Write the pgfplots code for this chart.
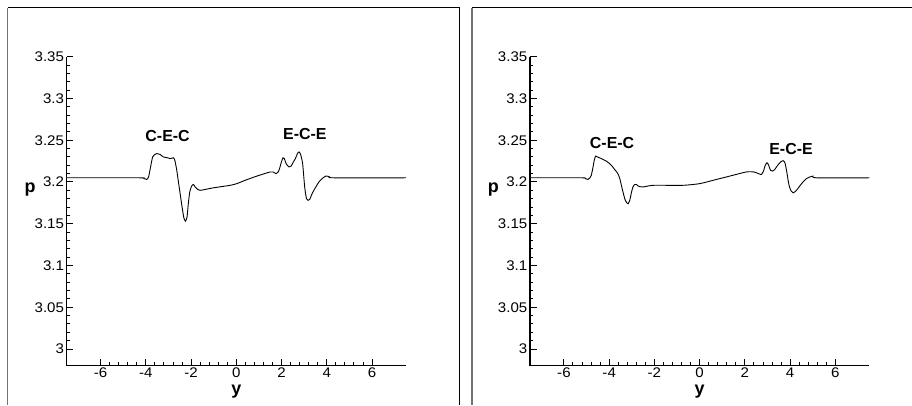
\documentclass[border=0pt]{standalone}
\usepackage{fontspec}
\setmainfont{Liberation Sans}
\newfontfamily\tickfont[FakeStretch=1.08]{Liberation Sans}
\usepackage{pgfplots}
\pgfplotsset{compat=1.18}
\tikzset{
  lab/.style={font=\bfseries\fontsize{16}{18}\selectfont},
  axlab/.style={font=\bfseries\fontsize{18}{20}\selectfont, anchor=base, inner sep=0pt},
}
\begin{document}
\begin{tikzpicture}[x=1bp,y=1bp]
\useasboundingbox (0,0) rectangle (912,405);
\pgfplotsset{
  panel/.style={
    anchor=south west, scale only axis,
    width=339.3bp, height=309bp,
    xmin=-7.5, xmax=7.5, ymin=2.98, ymax=3.35,
    axis x line*=bottom, axis y line*=left,
    axis line style={line width=1.4bp},
    xtick={-6,-4,-2,0,2,4,6},
    xticklabels={-6,-4,-2,0,2,4,6},
    ytick={3,3.05,3.1,3.15,3.2,3.25,3.3,3.35},
    yticklabels={3,3.05,3.1,3.15,3.2,3.25,3.3,3.35},
    minor x tick num=4, minor y tick num=4,
    tick align=inside,
    major tick length=6.5bp, minor tick length=3.3bp,
    every tick/.style={black, line width=1bp},
    tick label style={font=\tickfont\fontsize{14}{16}\selectfont},
    yticklabel style={inner sep=2.5bp},
    xticklabel style={inner sep=2bp},
    /pgf/number format/assume math mode=true,
    clip=false,
  },
  curve/.style={black, line width=0.9bp, smooth, tension=0.35, mark=none},
}
% left panel
\begin{axis}[panel, at={(66.7bp,39.3bp)}]
\addplot[curve] coordinates {
(-7.5,3.205) (-4.3,3.205) (-4.11,3.2045) (-3.96,3.203) (-3.88,3.206) (-3.82,3.214) (-3.75,3.224) (-3.70,3.230) (-3.60,3.233) (-3.52,3.234) (-3.45,3.2335) (-3.37,3.233) (-3.23,3.230) (-3.05,3.229) (-2.93,3.228) (-2.85,3.2285) (-2.78,3.229) (-2.72,3.226) (-2.64,3.215) (-2.56,3.200) (-2.49,3.187) (-2.40,3.170) (-2.32,3.157) (-2.25,3.153) (-2.18,3.158) (-2.12,3.175) (-2.06,3.188) (-1.98,3.195) (-1.90,3.197) (-1.82,3.194) (-1.75,3.192) (-1.60,3.190) (-1.01,3.193) (-0.27,3.196) (0.02,3.198) (0.39,3.202) (0.90,3.207) (1.49,3.212) (1.62,3.212) (1.76,3.210) (1.85,3.212) (1.91,3.216) (1.98,3.223) (2.06,3.229) (2.12,3.228) (2.20,3.222) (2.32,3.218) (2.42,3.219) (2.52,3.224) (2.61,3.228) (2.70,3.234) (2.77,3.236) (2.84,3.233) (2.93,3.222) (3.02,3.194) (3.10,3.180) (3.17,3.178) (3.24,3.179) (3.35,3.186) (3.49,3.193) (3.65,3.200) (3.79,3.204) (3.95,3.207) (4.10,3.2065) (4.30,3.205) (7.5,3.205)
};
\node[lab] at (axis cs:-3.04,3.2545) {C-E-C};
\node[lab] at (axis cs:3.03,3.2577) {E-C-E};
\node[axlab] at (axis description cs:-0.108,0.562) {p};
\node[axlab] at (axis description cs:0.5,-0.094) {y};
\end{axis}
% right panel
\begin{axis}[panel, at={(530bp,39.3bp)}]
\addplot[curve] coordinates {
(-7.5,3.205) (-5.2,3.205) (-5.05,3.204) (-4.94,3.203) (-4.85,3.205) (-4.79,3.208) (-4.72,3.217) (-4.66,3.226) (-4.60,3.231) (-4.52,3.230) (-4.35,3.228) (-4.13,3.225) (-3.98,3.222) (-3.87,3.219) (-3.76,3.215) (-3.64,3.211) (-3.54,3.205) (-3.46,3.196) (-3.39,3.188) (-3.30,3.179) (-3.22,3.175) (-3.16,3.174) (-3.09,3.178) (-3.02,3.187) (-2.95,3.194) (-2.87,3.197) (-2.80,3.197) (-2.71,3.195) (-2.51,3.194) (-2.06,3.196) (-0.74,3.196) (0,3.198) (0.74,3.203) (1.47,3.208) (2.06,3.212) (2.40,3.212) (2.60,3.210) (2.73,3.209) (2.82,3.213) (2.90,3.220) (2.98,3.223) (3.05,3.220) (3.13,3.214) (3.22,3.213) (3.32,3.215) (3.45,3.220) (3.58,3.224) (3.69,3.2255) (3.77,3.223) (3.84,3.214) (3.91,3.202) (3.97,3.194) (4.05,3.189) (4.13,3.187) (4.20,3.188) (4.28,3.190) (4.42,3.195) (4.57,3.200) (4.72,3.204) (4.87,3.206) (5.01,3.207) (5.16,3.205) (7.5,3.205)
};
\node[lab] at (axis cs:-3.87,3.247) {C-E-C};
\node[lab] at (axis cs:4.04,3.240) {E-C-E};
\node[axlab] at (axis description cs:-0.108,0.562) {p};
\node[axlab] at (axis description cs:0.5,-0.094) {y};
\end{axis}
% frames
\draw[black!55, line width=1.4bp] (7.5,0) -- (7.5,397);
\draw[black, line width=1bp] (7.5,397) -- (459,397) -- (459,0);
\draw[black!55, line width=1.8bp] (471.7,0) -- (471.7,397);
\draw[black, line width=1bp] (471.7,397) -- (912,397);
\end{tikzpicture}
\end{document}
